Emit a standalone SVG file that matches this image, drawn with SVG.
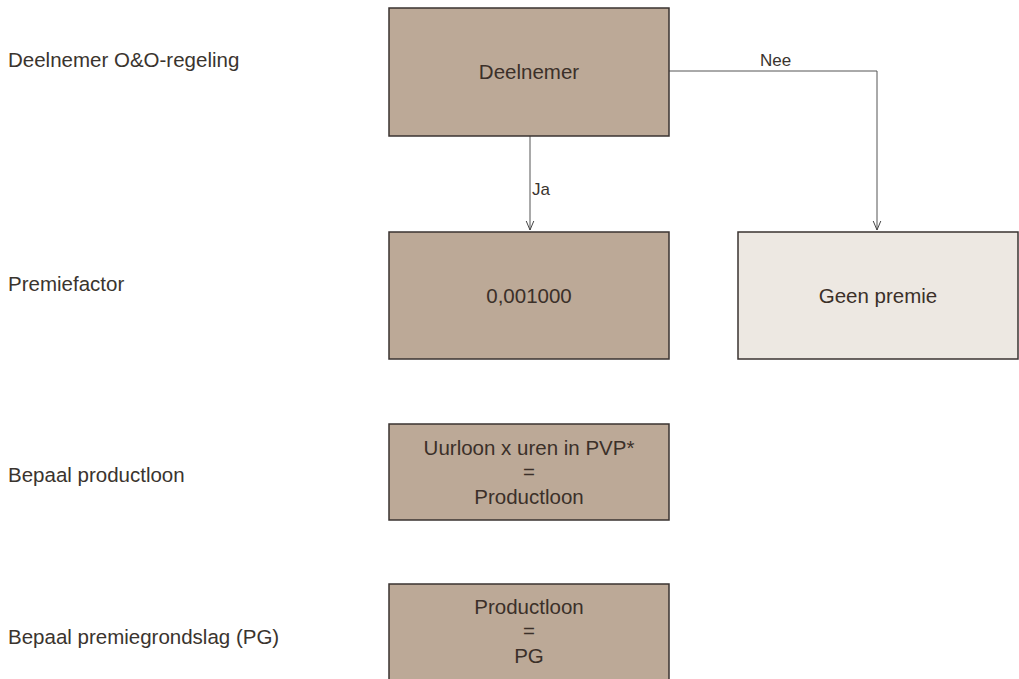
<svg xmlns="http://www.w3.org/2000/svg" width="1019" height="679" viewBox="0 0 1019 679">
<style>
.lbl{font-family:"Liberation Sans",Arial,sans-serif;font-size:20.5px;fill:#3a342e}
.t{font-family:"Liberation Sans",Arial,sans-serif;font-size:20.5px;fill:#3b3029;text-anchor:middle}
.cl{font-family:"Liberation Sans",Arial,sans-serif;font-size:17px;fill:#3a342e}
.b{fill:#bca997;stroke:#3a3330;stroke-width:1.5}
.l{fill:#ede8e2;stroke:#3a3330;stroke-width:1.5}
.c{fill:none;stroke:#555;stroke-width:1}
</style>
<defs>
<marker id="ah" viewBox="0 0 10 10" refX="9.5" refY="5" markerWidth="10" markerHeight="10" markerUnits="userSpaceOnUse" orient="auto">
<path d="M0,1 L9.5,5 L0,9" fill="none" stroke="#444" stroke-width="1"/>
</marker>
</defs>
<rect width="1019" height="679" fill="#fff"/>
<g id="labels">
<text class="lbl" x="8" y="67">Deelnemer O&amp;O-regeling</text>
<text class="lbl" x="8" y="291">Premiefactor</text>
<text class="lbl" x="8" y="482">Bepaal productloon</text>
<text class="lbl" x="8" y="644">Bepaal premiegrondslag (PG)</text>
</g>
<g id="connectors">
<path class="c" d="M530,136 V230" marker-end="url(#ah)"/>
<text class="cl" x="532" y="195">Ja</text>
<path class="c" d="M669,71 H877 V230" marker-end="url(#ah)"/>
<text class="cl" x="760" y="66">Nee</text>
</g>
<g id="node-deelnemer">
<rect class="b" x="389" y="8" width="280" height="128"/>
<text class="t" x="529" y="79">Deelnemer</text>
</g>
<g id="node-factor">
<rect class="b" x="389" y="232" width="280" height="127"/>
<text class="t" x="529" y="303">0,001000</text>
</g>
<g id="node-geen">
<rect class="l" x="738" y="232" width="280" height="127"/>
<text class="t" x="878" y="303">Geen premie</text>
</g>
<g id="node-productloon">
<rect class="b" x="389" y="424" width="280" height="96"/>
<text class="t" x="529" y="455">Uurloon x uren in PVP*</text>
<text class="t" x="529" y="479">=</text>
<text class="t" x="529" y="504">Productloon</text>
</g>
<g id="node-pg">
<rect class="b" x="389" y="584" width="280" height="110"/>
<text class="t" x="529" y="614">Productloon</text>
<text class="t" x="529" y="638">=</text>
<text class="t" x="529" y="663">PG</text>
</g>
</svg>
